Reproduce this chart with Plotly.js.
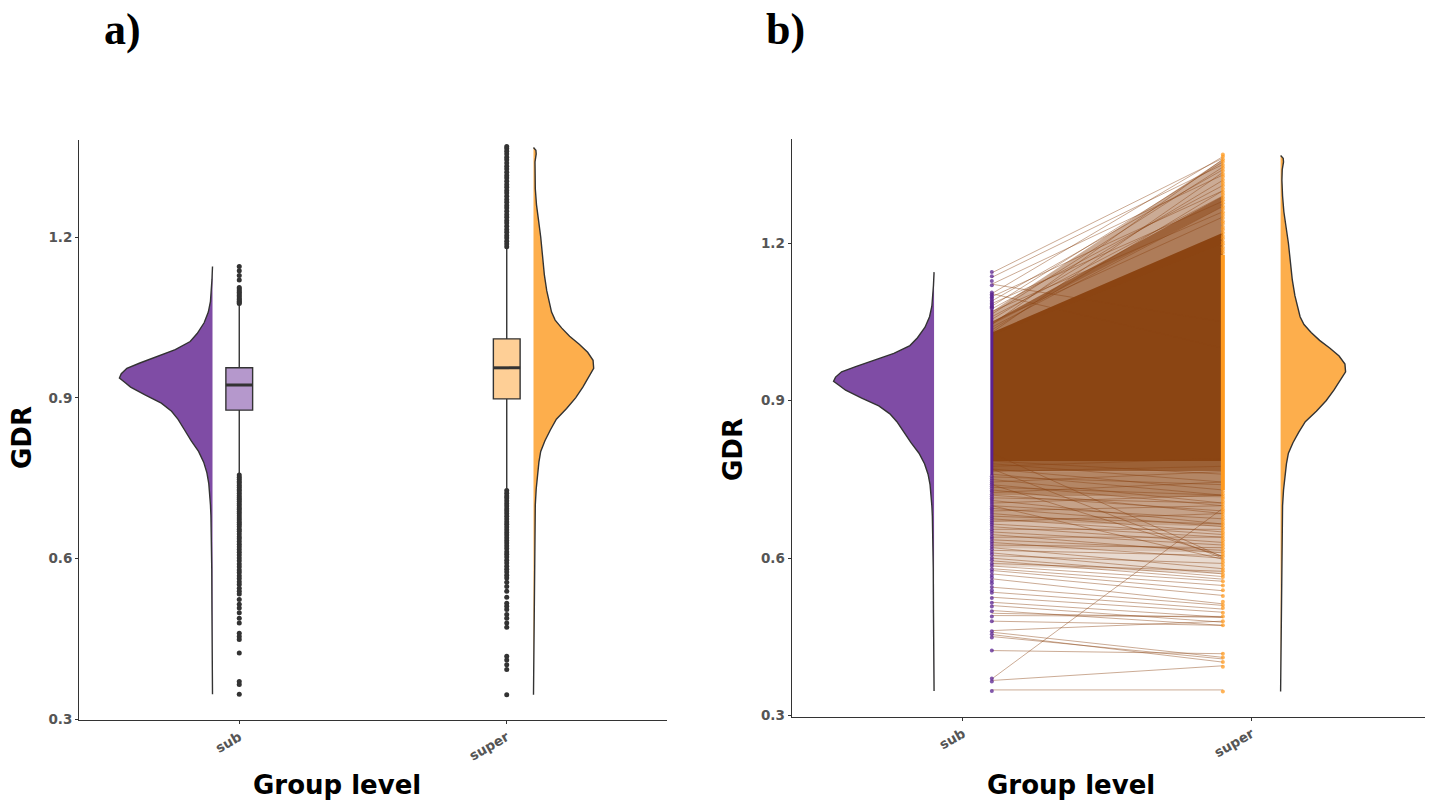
<!DOCTYPE html>
<html>
<head>
<meta charset="utf-8">
<script src="https://cdn.plot.ly/plotly-3.0.1.min.js"></script>
<style>html,body{margin:0;padding:0;background:#fff;}#chart{width:1434px;height:801px;}</style>
</head>
<body>
<div id="chart"></div>
<script>
// ---------------- DATA ----------------
const categories = ['sub', 'super'];
const yTicks = [0.3, 0.6, 0.9, 1.2];

// half-violin outlines: GDR value and relative density (max = 1)
const subDensY = [0.347, 0.40, 0.50, 0.58, 0.62, 0.65, 0.68, 0.70, 0.72, 0.74, 0.76, 0.78, 0.80, 0.82, 0.84, 0.86, 0.875, 0.89, 0.905, 0.92, 0.93, 0.937, 0.945, 0.955, 0.965, 0.975, 0.99, 1.005, 1.02, 1.04, 1.06, 1.08, 1.10, 1.12, 1.145];
const subDensW = [0, 0.004, 0.006, 0.008, 0.010, 0.013, 0.017, 0.022, 0.030, 0.040, 0.060, 0.095, 0.15, 0.23, 0.30, 0.37, 0.44, 0.55, 0.72, 0.88, 0.95, 1.0, 0.98, 0.92, 0.78, 0.62, 0.40, 0.24, 0.165, 0.09, 0.045, 0.022, 0.012, 0.006, 0];
const superDensY = [0.346, 0.45, 0.55, 0.61, 0.67, 0.70, 0.73, 0.76, 0.78, 0.80, 0.82, 0.84, 0.86, 0.88, 0.90, 0.92, 0.94, 0.955, 0.97, 0.985, 1.00, 1.015, 1.03, 1.045, 1.06, 1.08, 1.10, 1.13, 1.17, 1.20, 1.23, 1.26, 1.29, 1.32, 1.34, 1.355, 1.362, 1.367];
const superDensW = [0, 0.008, 0.012, 0.017, 0.022, 0.03, 0.045, 0.07, 0.09, 0.12, 0.19, 0.28, 0.38, 0.55, 0.70, 0.82, 0.93, 1.0, 0.99, 0.90, 0.76, 0.60, 0.47, 0.36, 0.30, 0.26, 0.22, 0.18, 0.15, 0.12, 0.085, 0.05, 0.03, 0.02, 0.025, 0.045, 0.04, 0];

// box statistics
const subBox   = {q1: 0.877, median: 0.924, q3: 0.956, lowerfence: 0.758, upperfence: 1.074};
const superBox = {q1: 0.898, median: 0.956, q3: 1.010, lowerfence: 0.730, upperfence: 1.178};

// outliers
const subUpperOut = [1.145, 1.137, 1.128, 1.120, 1.106, 1.103, 1.100, 1.097, 1.094, 1.091, 1.088, 1.085, 1.083, 1.080, 1.078, 1.076];
const subLowerOut = [0.756, 0.752, 0.748, 0.744, 0.741, 0.737, 0.733, 0.729, 0.726, 0.722, 0.718, 0.714, 0.711, 0.707, 0.703, 0.699, 0.695, 0.692, 0.688, 0.684, 0.680, 0.676, 0.672, 0.668, 0.664, 0.660, 0.655, 0.651, 0.646, 0.641, 0.637, 0.632, 0.627, 0.622, 0.617, 0.612, 0.607, 0.601, 0.596, 0.590, 0.585, 0.579, 0.574, 0.568, 0.563, 0.557, 0.552, 0.545, 0.539, 0.534, 0.524, 0.515, 0.508, 0.499, 0.489, 0.480, 0.461, 0.455, 0.449, 0.424, 0.371, 0.365, 0.347];
const superUpperOut = [1.182, 1.187, 1.192, 1.198, 1.203, 1.209, 1.214, 1.220, 1.226, 1.231, 1.237, 1.242, 1.248, 1.254, 1.259, 1.265, 1.270, 1.276, 1.282, 1.287, 1.293, 1.298, 1.304, 1.310, 1.315, 1.321, 1.327, 1.332, 1.338, 1.344, 1.349, 1.355, 1.360, 1.365, 1.369];
const superLowerOut = [0.727, 0.722, 0.717, 0.713, 0.708, 0.703, 0.698, 0.693, 0.689, 0.684, 0.679, 0.674, 0.669, 0.664, 0.659, 0.654, 0.649, 0.644, 0.639, 0.634, 0.629, 0.624, 0.619, 0.613, 0.608, 0.603, 0.597, 0.592, 0.586, 0.580, 0.575, 0.569, 0.564, 0.556, 0.548, 0.539, 0.528, 0.517, 0.511, 0.505, 0.496, 0.489, 0.480, 0.472, 0.418, 0.411, 0.402, 0.393, 0.346];

// panel b: dense bundles of paired lines (sub range -> super range, with how dense they look)
const bundleSubLow    = [0.585, 0.620, 0.670, 0.720, 0.765, 0.785, 1.025, 1.045];
const bundleSubHigh   = [0.620, 0.670, 0.720, 0.765, 0.790, 1.030, 1.050, 1.070];
const bundleSuperLow  = [0.570, 0.610, 0.660, 0.715, 0.765, 0.785, 1.200, 1.270];
const bundleSuperHigh = [0.610, 0.660, 0.715, 0.765, 0.790, 1.220, 1.290, 1.360];
const bundleAlpha     = [0.2, 0.35, 0.5, 0.65, 0.85, 1.0, 0.7, 0.45];

// panel b: individually visible pairs (sub value -> super value)
const linkSub = [0.349, 0.367, 0.370, 0.424, 0.4507, 0.4545, 0.459, 0.462, 0.480, 0.4907, 0.495, 0.5003, 0.5098, 0.516, 0.5256, 0.5352, 0.5447, 0.5607, 0.570, 0.5766,
  0.580, 0.585, 0.590, 0.595, 0.600, 0.605, 0.610, 0.615, 0.620, 0.625, 0.630, 0.635, 0.640, 0.645, 0.650, 0.655, 0.660, 0.665, 0.670, 0.675, 0.680, 0.685, 0.690, 0.695, 0.700, 0.705, 0.710, 0.715, 0.720, 0.725, 0.730, 0.735, 0.740, 0.745, 0.750, 0.755, 0.760, 0.765, 0.770, 0.775, 0.780, 0.785,
  0.800, 0.770, 0.740, 0.700,
  1.1436, 1.135, 1.122, 1.104, 1.098, 1.090, 1.085, 1.080, 1.075, 1.070, 1.065, 1.060, 1.055, 1.050, 1.045, 1.040, 1.035, 1.030, 1.122, 1.104];
const linkSuper = [0.349, 0.395, 0.695, 0.418, 0.408, 0.402, 0.411, 0.480, 0.472, 0.489, 0.487, 0.472, 0.478, 0.4875, 0.497, 0.503, 0.510, 0.513, 0.529, 0.538,
  0.548, 0.556, 0.575, 0.560, 0.565, 0.590, 0.570, 0.605, 0.580, 0.620, 0.600, 0.615, 0.640, 0.610, 0.625, 0.655, 0.630, 0.640, 0.685, 0.645, 0.665, 0.650, 0.700, 0.660, 0.675, 0.720, 0.665, 0.705, 0.690, 0.745, 0.685, 0.720, 0.700, 0.765, 0.705, 0.740, 0.720, 0.775, 0.730, 0.790, 0.745, 0.760,
  0.602, 0.600, 0.604, 0.598,
  1.362, 1.350, 1.330, 1.365, 1.300, 1.340, 1.280, 1.355, 1.310, 1.260, 1.345, 1.290, 1.320, 1.250, 1.360, 1.270, 1.300, 1.335, 1.050, 1.000];

// ---------------- STYLE ----------------
const C = {
  subViolin: '#7f4ca5', superViolin: '#fdae4c',
  subBox: '#b598cc', superBox: '#fecf96',
  ink: '#333333', link: '139,69,19',
  subPt: '#5a2190', superPt: '#ff9a1f'
};
const pos = {sub: 0, sup: 1};
const violinEdge = {sub: -0.1, sup: 1.1};
const violinMax = {sub: 0.348, sup: 0.225};
const boxW = 0.1;
const ptPos = {sub: 0.1, sup: 0.9};

function halfViolin(ys, ws, edge, maxW, dir, color, xa, ya) {
  const x = ys.map((y, i) => edge + dir * ws[i] * maxW);
  return {type: 'scatter', mode: 'lines', x: x, y: ys.slice(), fill: 'toself', fillcolor: color,
    line: {color: C.ink, width: 1.4}, xaxis: xa, yaxis: ya, hoverinfo: 'skip'};
}
function boxTrace(st, p, fill) {
  return {type: 'box', x: [p], q1: [st.q1], median: [st.median], q3: [st.q3],
    lowerfence: [st.lowerfence], upperfence: [st.upperfence], width: boxW, whiskerwidth: 0,
    fillcolor: fill, line: {color: C.ink, width: 1.4}, boxpoints: false, xaxis: 'x', yaxis: 'y', hoverinfo: 'skip'};
}
function medianLine(st, p) {
  return {type: 'scatter', mode: 'lines', x: [p - boxW / 2, p + boxW / 2], y: [st.median, st.median],
    line: {color: C.ink, width: 3}, xaxis: 'x', yaxis: 'y', hoverinfo: 'skip'};
}
function outliers(vals, p) {
  return {type: 'scatter', mode: 'markers', x: vals.map(() => p), y: vals,
    marker: {color: C.ink, size: 5}, xaxis: 'x', yaxis: 'y', hoverinfo: 'skip'};
}

const traces = [];
// ---- panel a ----
traces.push(halfViolin(subDensY, subDensW, violinEdge.sub, violinMax.sub, -1, C.subViolin, 'x', 'y'));
traces.push(halfViolin(superDensY, superDensW, violinEdge.sup, violinMax.sup, 1, C.superViolin, 'x', 'y'));
traces.push(boxTrace(subBox, pos.sub, C.subBox));
traces.push(boxTrace(superBox, pos.sup, C.superBox));
traces.push(medianLine(subBox, pos.sub));
traces.push(medianLine(superBox, pos.sup));
traces.push(outliers(subUpperOut.concat(subLowerOut), pos.sub));
traces.push(outliers(superUpperOut.concat(superLowerOut), pos.sup));

// ---- panel b ----
traces.push(halfViolin(subDensY, subDensW, violinEdge.sub, violinMax.sub, -1, C.subViolin, 'x2', 'y2'));
traces.push(halfViolin(superDensY, superDensW, violinEdge.sup, violinMax.sup, 1, C.superViolin, 'x2', 'y2'));
bundleSubLow.forEach((v, i) => {
  traces.push({type: 'scatter', mode: 'lines',
    x: [ptPos.sub, ptPos.sup, ptPos.sup, ptPos.sub],
    y: [bundleSubLow[i], bundleSuperLow[i], bundleSuperHigh[i], bundleSubHigh[i]],
    fill: 'toself', fillcolor: 'rgba(' + C.link + ',' + bundleAlpha[i] + ')',
    line: {width: 0, color: 'rgba(0,0,0,0)'}, xaxis: 'x2', yaxis: 'y2', hoverinfo: 'skip'});
});
// individual lines
const lx = [], ly = [];
linkSub.forEach((s, i) => { lx.push(ptPos.sub, ptPos.sup, null); ly.push(s, linkSuper[i], null); });
traces.push({type: 'scatter', mode: 'lines', x: lx, y: ly, connectgaps: false,
  line: {color: 'rgba(' + C.link + ',0.45)', width: 1}, xaxis: 'x2', yaxis: 'y2', hoverinfo: 'skip'});
// point columns
traces.push({type: 'scatter', mode: 'lines', x: [ptPos.sub, ptPos.sub], y: [subBox.lowerfence, subBox.upperfence],
  line: {color: C.subPt, width: 3}, xaxis: 'x2', yaxis: 'y2', hoverinfo: 'skip'});
traces.push({type: 'scatter', mode: 'lines', x: [ptPos.sup, ptPos.sup], y: [superBox.lowerfence, superBox.upperfence],
  line: {color: C.superPt, width: 4}, xaxis: 'x2', yaxis: 'y2', hoverinfo: 'skip'});
const subAll = subUpperOut.concat(subLowerOut), supAll = superUpperOut.concat(superLowerOut);
traces.push({type: 'scatter', mode: 'markers', x: subAll.map(() => ptPos.sub), y: subAll,
  marker: {color: C.subPt, size: 4, opacity: 0.75}, xaxis: 'x2', yaxis: 'y2', hoverinfo: 'skip'});
traces.push({type: 'scatter', mode: 'markers', x: supAll.map(() => ptPos.sup), y: supAll,
  marker: {color: C.superPt, size: 4, opacity: 0.75}, xaxis: 'x2', yaxis: 'y2', hoverinfo: 'skip'});

// ---------------- LAYOUT ----------------
const W = 1434, H = 801;
const tickFont = {family: 'DejaVu Sans', size: 13.5, color: '#555555', weight: 'bold'};
function xAxis(dom, rng, anchor) {
  return {domain: dom, range: rng, anchor: anchor, showgrid: false, zeroline: false, showline: true,
    linecolor: C.ink, linewidth: 1.2, ticks: 'outside', ticklen: 3, tickcolor: C.ink,
    tickvals: [pos.sub, pos.sup], ticktext: categories, tickangle: -30, tickfont: tickFont, fixedrange: true};
}
function yAxis(dom, rng, anchor) {
  return {domain: dom, range: rng, anchor: anchor, showgrid: false, zeroline: false, showline: true,
    linecolor: C.ink, linewidth: 1.2, ticks: 'outside', ticklen: 3, tickcolor: C.ink,
    tickvals: yTicks, tickformat: '.1f', tickfont: tickFont, fixedrange: true};
}
const titleFont = {family: 'DejaVu Sans', size: 26, color: '#000', weight: 'bold'};
const panelFont = {family: 'Liberation Serif', size: 44, color: '#000', weight: 'bold'};
function ann(text, px, py, font, angle) {
  return {text: text, x: px / W, y: 1 - py / H, xref: 'paper', yref: 'paper', showarrow: false,
    xanchor: 'center', yanchor: 'middle', font: font, textangle: angle || 0};
}
const layout = {
  width: W, height: H, margin: {l: 0, r: 0, t: 0, b: 0},
  paper_bgcolor: '#ffffff', plot_bgcolor: '#ffffff', showlegend: false,
  xaxis: xAxis([79.3 / W, 666.7 / W], [-0.598, 1.598], 'y'),
  yaxis: yAxis([1 - 720 / H, 1 - 140 / H], [0.299, 1.381], 'x'),
  xaxis2: xAxis([791.7 / W, 1425 / W], [-0.593, 1.600], 'y2'),
  yaxis2: yAxis([1 - 716.7 / H, 1 - 139.3 / H], [0.298, 1.398], 'x2'),
  annotations: [
    ann('a)', 122, 30, panelFont), ann('b)', 785, 30, panelFont),
    ann('GDR', 22, 438, titleFont, -90), ann('GDR', 733, 450, titleFont, -90),
    ann('Group level', 337, 785, titleFont), ann('Group level', 1071, 785, titleFont)
  ]
};
Plotly.newPlot('chart', traces, layout, {staticPlot: true, displayModeBar: false});
</script>
</body>
</html>
